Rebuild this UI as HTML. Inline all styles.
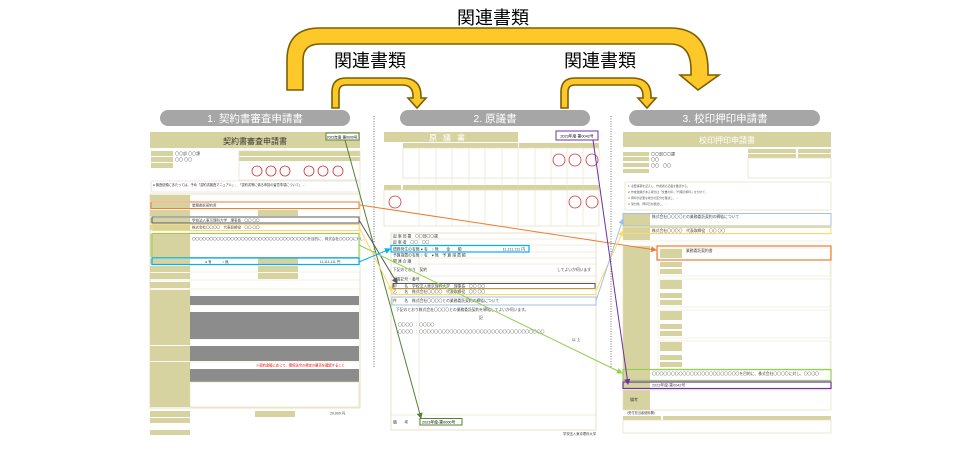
<!DOCTYPE html>
<html><head><meta charset="utf-8"><style>
html,body{margin:0;padding:0;background:#fff;}
svg{display:block;font-family:"Liberation Sans","Noto Sans CJK JP",sans-serif;}
</style></head><body>
<svg width="960" height="454" viewBox="0 0 960 454" xmlns="http://www.w3.org/2000/svg">
<defs>
<marker id="ah" markerWidth="6" markerHeight="6" refX="5" refY="3" orient="auto" markerUnits="userSpaceOnUse"><path d="M0,0 L6,3 L0,6z" fill="context-stroke"/></marker>
</defs>

<g fill="#fcc82a" stroke="#7d5f00" stroke-width="1.6" stroke-linejoin="miter">
<path d="M287,90 L287,60 Q287,28 320,28 L670,28 Q708,28 708,70 L708,75 L719,75 L698,90 L680,75 L691,75 L691,70 Q691,44 670,44 L320,44 Q303,44 303,60 L303,90 Z"/>
<path d="M332,108 L332,92 Q332,78 346,78 L402,78 Q421,78 421,96 L421,98 L426,98 L417,108 L408,98 L413,98 L413,96 Q413,85 402,85 L346,85 Q339,85 339,92 L339,108 Z"/>
<path d="M561,108 L561,92 Q561,78 575,78 L632,78 Q651,78 651,96 L651,98 L656,98 L647,108 L638,98 L643,98 L643,96 Q643,85 632,85 L575,85 Q568,85 568,92 L568,108 Z"/>
</g>
<g font-size="18" fill="#000" text-anchor="middle">
<text x="493" y="24">関連書類</text>
<text x="370" y="67">関連書類</text>
<text x="600" y="67">関連書類</text>
</g>

<g fill="#a6a6a6">
<rect x="160" y="110" width="190" height="16" rx="8"/>
<rect x="400" y="110" width="190" height="16" rx="8"/>
<rect x="629" y="110" width="191" height="16" rx="8"/>
</g>
<g fill="#fff" font-size="10.5" text-anchor="middle">
<text x="255" y="122">1. 契約書審査申請書</text>
<text x="495" y="122">2. 原議書</text>
<text x="725" y="122">3. 校印押印申請書</text>
</g>
<g stroke="#777" stroke-width="1" stroke-dasharray="1,1.5">
<line x1="374" y1="116" x2="374" y2="368"/>
<line x1="611" y1="116" x2="611" y2="368"/>
</g>

<!-- DOC 1 -->
<g>
<rect x="150" y="132" width="210" height="16" fill="#d6d3a1"/>
<text x="255" y="144" font-size="8" text-anchor="middle" fill="#333">契約書審査申請書</text>
<rect x="326" y="133" width="33" height="7" fill="#fff" stroke="#548235" stroke-width="1"/>
<text x="342" y="138.5" font-size="3.5" text-anchor="middle">2023年度-第0000号</text>
<g fill="#d6d3a1">
<rect x="151" y="151" width="22" height="5"/><rect x="151" y="157" width="22" height="5"/><rect x="151" y="163" width="22" height="5"/>
<rect x="239" y="151" width="121" height="5"/><rect x="239" y="157" width="121" height="4"/>
</g>
<rect x="239" y="151" width="121" height="29" fill="none" stroke="#e0ddb8" stroke-width="0.6"/>
<g fill="none" stroke="#c33" stroke-width="0.8">
<circle cx="257" cy="171" r="5"/><circle cx="271" cy="171" r="5"/><circle cx="285" cy="171" r="5"/><circle cx="309" cy="171" r="5"/><circle cx="323" cy="171" r="5"/><circle cx="338" cy="171" r="5"/>
</g>
<text x="175" y="155" font-size="4" fill="#555">〇〇部 〇〇課</text>
<text x="175" y="161" font-size="4" fill="#555">〇〇 〇〇</text>
<rect x="151" y="181" width="209" height="11" fill="#fff" stroke="#e6c9c9" stroke-width="0.6" rx="2"/>
<text x="153" y="186" font-size="3.2" fill="#333">● 審査依頼にあたっては、予め「契約書審査マニュアル」、「契約書等に係る申請の留意事項について」…</text>
<rect x="150" y="194" width="210" height="214" fill="none" stroke="#e0ddb8" stroke-width="0.8"/>
<g stroke="#e6e3c6" stroke-width="0.5">
<line x1="150" y1="202" x2="360" y2="202"/><line x1="150" y1="209" x2="360" y2="209"/><line x1="150" y1="217" x2="360" y2="217"/><line x1="150" y1="224" x2="360" y2="224"/><line x1="150" y1="232" x2="360" y2="232"/><line x1="150" y1="258" x2="360" y2="258"/><line x1="150" y1="265" x2="360" y2="265"/><line x1="150" y1="272" x2="360" y2="272"/><line x1="150" y1="280" x2="360" y2="280"/><line x1="150" y1="289" x2="360" y2="289"/><line x1="150" y1="305" x2="360" y2="305"/><line x1="150" y1="339" x2="360" y2="339"/><line x1="150" y1="362" x2="360" y2="362"/>
<line x1="190" y1="194" x2="190" y2="408"/>
</g>
<g fill="#d6d3a1">
<rect x="150" y="195" width="40" height="6"/>
<rect x="150" y="203" width="40" height="5"/>
<rect x="150" y="210" width="40" height="6"/><rect x="258" y="210" width="40" height="6"/>
<rect x="150" y="218" width="40" height="5"/>
<rect x="150" y="225" width="40" height="5"/>
<rect x="150" y="234" width="40" height="23"/>
<rect x="150" y="259" width="40" height="5"/><rect x="258" y="258" width="40" height="6"/>
<rect x="150" y="266" width="40" height="6"/><rect x="258" y="266" width="40" height="6"/>
<rect x="150" y="273" width="40" height="6"/><rect x="258" y="273" width="40" height="6"/>
<rect x="150" y="282" width="40" height="6"/>
<rect x="150" y="290" width="40" height="6"/>
<rect x="150" y="296" width="40" height="9"/>
<rect x="150" y="305" width="40" height="7"/>
<rect x="150" y="312" width="40" height="27"/>
<rect x="150" y="339" width="40" height="6"/>
<rect x="150" y="346" width="40" height="15"/>
<rect x="150" y="362" width="40" height="7"/>
<rect x="150" y="369" width="40" height="13"/>
<rect x="150" y="382" width="40" height="25"/>
<rect x="150" y="411" width="40" height="6"/><rect x="255" y="411" width="40" height="6"/>
<rect x="150" y="418" width="40" height="5"/>
<rect x="150" y="430" width="40" height="5"/>
</g>
<g fill="#8c8c8c">
<rect x="190" y="296" width="169" height="9"/>
<rect x="190" y="312" width="169" height="27"/>
<rect x="190" y="346" width="169" height="15"/>
<rect x="190" y="369" width="169" height="13"/>
</g>
<rect x="190" y="382" width="169" height="25" fill="#fff" stroke="#e0ddb8" stroke-width="0.6"/>
<text x="256" y="366.5" font-size="3.3" fill="#e00">※契約金額に応じて、関係法令の規定の要否を確認すること</text>
<g font-size="3.5" fill="#444">
<text x="192" y="206.5">業務委託契約書</text>
<text x="192" y="221.5">学校法人東京理科大学　理事長　〇〇 〇〇</text>
<text x="192" y="228.5">株式会社〇〇〇〇　代表取締役　〇〇 〇〇</text>
<text x="192" y="240">〇〇〇〇〇〇〇〇〇〇〇〇〇〇〇〇〇〇〇〇〇〇〇〇〇〇〇〇〇〇〇〇〇を目的に、株式会社〇〇〇〇に対し、</text>
<text x="330" y="263" text-anchor="middle">11,111,111 円</text>
<text x="205" y="263">● 有　　　○ 無</text>
<text x="330" y="414.5">20,000 円</text>
</g>
<rect x="151" y="202" width="208" height="6.5" fill="none" stroke="#ed7d31" stroke-width="1"/>
<rect x="152" y="217" width="207" height="6" fill="none" stroke="#595959" stroke-width="1"/>
<rect x="152" y="224.5" width="207" height="6" fill="none" stroke="#ffd966" stroke-width="1"/>
<rect x="152" y="233.5" width="207" height="24" fill="none" stroke="#92d050" stroke-width="1"/>
<rect x="152" y="258" width="207" height="6.5" fill="none" stroke="#00b0f0" stroke-width="1.2"/>
</g>

<!-- DOC 2 -->
<g>
<rect x="384" y="132" width="134" height="10" fill="#d6d3a1"/>
<text x="450" y="140.5" font-size="8" text-anchor="middle" fill="#fff" letter-spacing="6">原議書</text>
<rect x="556" y="131" width="42" height="9" fill="#fff" stroke="#7030a0" stroke-width="1"/>
<text x="577" y="137.5" font-size="3.8" text-anchor="middle">2023年度-第0042号</text>
<rect x="403" y="143" width="115" height="5" fill="#d6d3a1"/><rect x="519" y="143" width="80" height="5" fill="#d6d3a1"/>
<rect x="403" y="148" width="196" height="30" fill="none" stroke="#e0ddb8" stroke-width="0.6"/>
<rect x="384" y="185" width="17" height="5" fill="#d6d3a1"/><rect x="403" y="185" width="196" height="5" fill="#d6d3a1"/>
<rect x="384" y="190" width="215" height="36" fill="none" stroke="#e0ddb8" stroke-width="0.6"/>
<g stroke="#e0ddb8" stroke-width="0.5">
<line x1="419" y1="148" x2="419" y2="226"/><line x1="436" y1="148" x2="436" y2="226"/><line x1="452" y1="148" x2="452" y2="226"/><line x1="469" y1="148" x2="469" y2="226"/><line x1="485" y1="148" x2="485" y2="226"/><line x1="502" y1="148" x2="502" y2="226"/><line x1="518" y1="148" x2="518" y2="226"/><line x1="535" y1="148" x2="535" y2="226"/><line x1="551" y1="148" x2="551" y2="226"/><line x1="567" y1="148" x2="567" y2="226"/><line x1="583" y1="148" x2="583" y2="226"/>
</g>
<g fill="none" stroke="#c33" stroke-width="0.8">
<circle cx="559" cy="160" r="6"/><circle cx="575" cy="160" r="6"/><circle cx="592" cy="160" r="6"/>
<circle cx="395" cy="202" r="6"/><circle cx="575" cy="202" r="6"/><circle cx="592" cy="202" r="6"/>
</g>
<rect x="391" y="233" width="205" height="197" fill="#fff" stroke="#e0ddb8" stroke-width="0.8"/>
<g stroke="#e0ddb8" stroke-width="0.5">
<line x1="391" y1="239" x2="596" y2="239"/><line x1="391" y1="245" x2="596" y2="245"/><line x1="391" y1="252" x2="596" y2="252"/><line x1="391" y1="258" x2="596" y2="258"/><line x1="391" y1="264" x2="596" y2="264"/><line x1="391" y1="276" x2="596" y2="276"/><line x1="391" y1="282" x2="596" y2="282"/><line x1="391" y1="415" x2="596" y2="415"/>
<line x1="419" y1="233" x2="419" y2="430"/>
</g>
<g font-size="3.8" fill="#444">
<text x="393" y="237.5">起 案 部 署　〇〇部〇〇課</text>
<text x="393" y="243.5">起 案 者　〇〇　〇〇</text>
<text x="393" y="250.5">債務発生の有無 ● 有　○ 無　　金　　額</text>
<text x="525" y="250.5" text-anchor="end">11,111,111 円</text>
<text x="393" y="256.5">予算措置の有無 ○ 有　● 無　予 算 措 置 額</text>
<text x="393" y="262.5">関 連 合 議</text>
<text x="393" y="271">下記のとおり　契約</text><text x="557" y="271">してよいか伺います</text>
<text x="393" y="280.5">文書記号・番号</text>
<text x="393" y="287.5">甲　　名　学校法人東京理科大学　理事長　〇〇 〇〇</text>
<text x="393" y="293">乙　　名　株式会社〇〇〇〇　代表取締役　〇〇 〇〇</text>
<text x="393" y="302">件　　名　株式会社〇〇〇〇との業務委託契約の締結について</text>
<text x="396" y="311">下記のとおり株式会社〇〇〇〇との業務委託契約を締結してよいか伺います。</text>
<text x="479" y="319">記</text>
<text x="398" y="326">〇〇〇〇 ： 〇〇〇〇</text>
<text x="398" y="333">〇〇〇〇 ： 〇〇〇〇〇〇〇〇〇〇〇〇〇〇〇〇〇〇〇〇〇〇〇〇〇〇〇〇〇〇〇〇〇</text>
<text x="572" y="341">以 上</text>
<text x="393" y="423.5">備　　考</text>
<text x="596" y="435" text-anchor="end" font-size="3.3">学校法人東京理科大学</text>
</g>
<rect x="391" y="245.5" width="138" height="6.5" fill="none" stroke="#00b0f0" stroke-width="1.2"/>
<rect x="393" y="283.5" width="202" height="5" fill="none" stroke="#595959" stroke-width="1"/>
<rect x="392" y="289" width="204" height="5.5" fill="none" stroke="#ffd966" stroke-width="1"/>
<rect x="392" y="297" width="204" height="8" fill="none" stroke="#9dc3e6" stroke-width="1"/>
<rect x="420" y="418.5" width="42" height="6.5" fill="#fff" stroke="#548235" stroke-width="1"/>
<text x="422" y="423.5" font-size="3.8">2023年度-第0000号</text>
</g>

<!-- DOC 3 -->
<g>
<rect x="623" y="132" width="208" height="15" fill="#d6d3a1"/>
<text x="727" y="143" font-size="8" text-anchor="middle" fill="#fff">校印押印申請書</text>
<g fill="#d6d3a1">
<rect x="623" y="152" width="26" height="4"/><rect x="623" y="157" width="26" height="4"/><rect x="623" y="163" width="26" height="4"/><rect x="623" y="169" width="26" height="4"/>
<rect x="748" y="149" width="48" height="4"/><rect x="798" y="149" width="33" height="4"/>
<rect x="748" y="154" width="48" height="4"/><rect x="798" y="154" width="33" height="4"/>
</g>
<rect x="748" y="158" width="83" height="20" fill="none" stroke="#e0ddb8" stroke-width="0.6"/>
<g font-size="4" fill="#444"><text x="651" y="155.5">〇〇部〇〇課</text><text x="651" y="161">〇〇</text><text x="651" y="167">〇〇　〇〇</text></g>
<rect x="625" y="182" width="206" height="28" fill="#fff" stroke="#e0ddb8" stroke-width="0.6"/>
<g font-size="2.8" fill="#555"><text x="628" y="187">1. 必要事項を記入し、作成者の記載を確認する。</text><text x="628" y="193">2. 作成依頼がある場合は「文書の印」「代理の押印」を付けて…</text><text x="628" y="199">3. 押印が必要な場合の区分を確認し、…</text><text x="628" y="205">4. 受付後、押印日を確認し、…</text></g>
<g stroke="#e6e3c6" stroke-width="0.5">
<line x1="623" y1="227" x2="831" y2="227"/><line x1="623" y1="234" x2="831" y2="234"/><line x1="623" y1="241" x2="831" y2="241"/>
</g>
<g fill="#d6d3a1">
<rect x="623" y="214" width="27" height="12"/>
<rect x="623" y="228" width="27" height="5"/>
<rect x="623" y="234" width="27" height="6"/>
<rect x="623" y="246" width="27" height="124"/>
<rect x="660" y="249" width="22" height="9"/><rect x="660" y="262" width="22" height="5"/><rect x="660" y="269" width="22" height="5"/>
<rect x="660" y="280" width="22" height="9"/><rect x="660" y="293" width="22" height="5"/><rect x="660" y="300" width="22" height="5"/>
<rect x="660" y="311" width="22" height="9"/><rect x="660" y="324" width="22" height="5"/><rect x="660" y="331" width="22" height="5"/>
<rect x="660" y="342" width="22" height="9"/><rect x="660" y="355" width="22" height="5"/><rect x="660" y="362" width="22" height="5"/>
<rect x="623" y="370" width="27" height="10"/>
<rect x="623" y="382" width="27" height="6"/>
<rect x="623" y="390" width="27" height="20"/>
<rect x="623" y="416" width="38" height="4"/><rect x="663" y="416" width="168" height="4"/>
</g>
<g fill="none" stroke="#e6e3c6" stroke-width="0.5">
<rect x="658" y="248" width="172" height="28"/><rect x="658" y="279" width="172" height="28"/><rect x="658" y="310" width="172" height="28"/><rect x="658" y="341" width="172" height="28"/>
</g>
<rect x="623" y="246" width="208" height="124" fill="none" stroke="#e0ddb8" stroke-width="0.6"/>
<rect x="623" y="390" width="208" height="20" fill="none" stroke="#e0ddb8" stroke-width="0.6"/>
<rect x="623" y="420" width="208" height="13" fill="none" stroke="#e0ddb8" stroke-width="0.6"/>
<g font-size="3.8" fill="#444">
<text x="652" y="218">株式会社〇〇〇〇との業務委託契約の締結について</text>
<text x="652" y="232">株式会社〇〇〇〇　代表取締役　〇〇 〇〇</text>
<text x="686" y="252">業務委託契約書</text>
<text x="652" y="375">〇〇〇〇〇〇〇〇〇〇〇〇〇〇〇〇〇〇〇〇〇〇〇を目的に、株式会社〇〇〇〇に対し、〇〇〇〇</text>
<text x="652" y="386.5">2023年度-第0042号</text>
<text x="630" y="401" font-size="4">備考</text>
<text x="625" y="414" font-size="3.2">（受付担当者使用欄）</text>
</g>
<rect x="623" y="213.5" width="208" height="12.5" fill="none" stroke="#9dc3e6" stroke-width="1"/>
<rect x="623" y="227.5" width="208" height="6" fill="none" stroke="#ffd966" stroke-width="1"/>
<rect x="657" y="246" width="174" height="14" fill="none" stroke="#ed7d31" stroke-width="1.2"/>
<rect x="623" y="369.5" width="208" height="11" fill="none" stroke="#92d050" stroke-width="1.2"/>
<rect x="623" y="382" width="208" height="6.5" fill="none" stroke="#7030a0" stroke-width="1.2"/>
</g>

<g fill="none" stroke-width="1" marker-end="url(#ah)">
<line x1="345" y1="140" x2="421" y2="418" stroke="#548235"/>
<line x1="360" y1="205" x2="656" y2="250" stroke="#ed7d31"/>
<line x1="359" y1="220" x2="397" y2="283" stroke="#595959"/>
<line x1="359" y1="227" x2="392" y2="291" stroke="#ffd966"/>
<line x1="596" y1="291" x2="623" y2="231" stroke="#ffd966"/>
<line x1="359" y1="245" x2="622" y2="373" stroke="#92d050"/>
<line x1="359" y1="262" x2="390" y2="249" stroke="#00b0f0"/>
<line x1="596" y1="301" x2="623" y2="219" stroke="#9dc3e6"/>
<line x1="593" y1="140" x2="628" y2="384" stroke="#7030a0"/>
</g>
</svg>
</body></html>
